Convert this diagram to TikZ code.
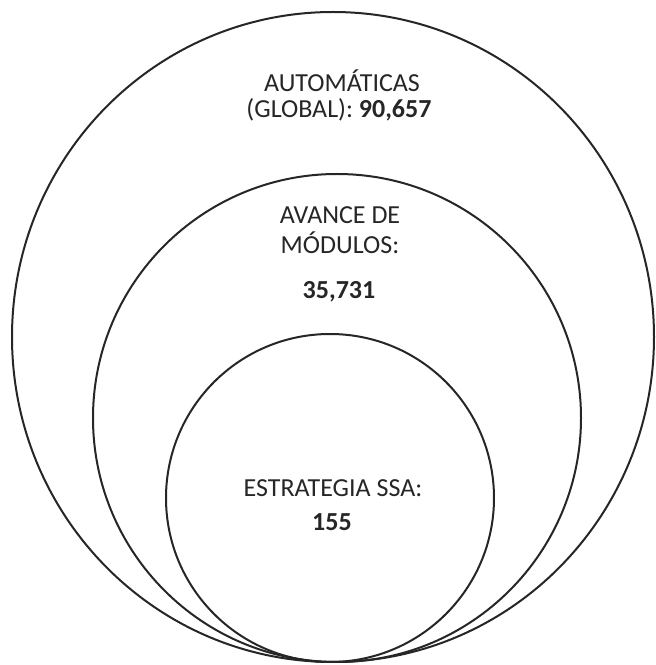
\documentclass[tikz,border=0pt]{standalone}
\usepackage{fontspec}
\setmainfont{Carlito}
\begin{document}
\begin{tikzpicture}[x=1pt,y=1pt,
  ring/.style={draw=black!85,line width=2pt},
  lbl/.style={anchor=base,inner sep=0pt,text=black!85,font=\fontsize{26}{26}\selectfont},
  num/.style={lbl,font=\fontsize{26}{26}\selectfont\bfseries}]
\useasboundingbox (0,0) rectangle (656,665);
\draw[ring] (333,328) ellipse [x radius=321,y radius=325];
\draw[ring] (337,247) circle [radius=244];
\draw[ring] (330,167) circle [radius=164];
\node[lbl] (a1) at (342,573) {AUTOMÁTICAS};
\node[lbl] (a2) at (339,547) {(GLOBAL): \textbf{90,657}};
\node[lbl] (b1) at (340,441) {AVANCE DE};
\node[lbl] (b2) at (340,411) {MÓDULOS:};
\node[num] (b3) at (339,366) {35,731};
\node[lbl] (c1) at (333,168) {ESTRATEGIA SSA:};
\node[num] (c2) at (332,134) {155};
\end{tikzpicture}
\end{document}
